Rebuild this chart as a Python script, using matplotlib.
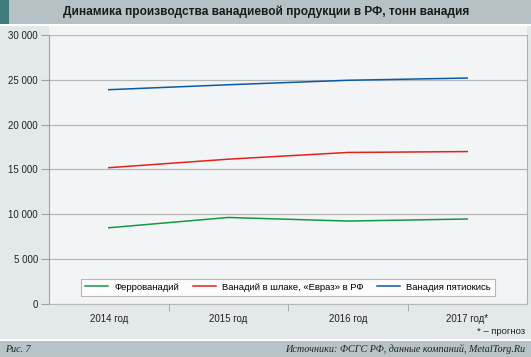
import matplotlib
matplotlib.use('Agg')
import matplotlib.pyplot as plt
from matplotlib.patches import Rectangle

plt.rcParams['font.family'] = ['Liberation Sans', 'DejaVu Sans']

years = ['2014 год', '2015 год', '2016 год', '2017 год*']
ferro = [8500, 9650, 9250, 9480]
slag = [15200, 16150, 16900, 17000]
pent = [23900, 24450, 24950, 25200]
series_names = ['Феррованадий', 'Ванадий в шлаке, «Евраз» в РФ', 'Ванадия пятиокись']
colors = ['#119a45', '#e2231a', '#0b5aa5']
yticks = [0, 5000, 10000, 15000, 20000, 25000, 30000]

W, H = 531, 357
fig = plt.figure(figsize=(W/100, H/100), dpi=100)
fig.patch.set_facecolor('#e3e8ea')

def box(x, y, w, h, c):
    # rectangle in pixel coords (top-left origin)
    fig.patches.append(Rectangle((x/W, 1-(y+h)/H), w/W, h/H, transform=fig.transFigure,
                                 facecolor=c, edgecolor='none', zorder=0))

box(0, 0, W, 24, '#b5c1c5')
box(0, 0, 9, 24, '#3d7b7d')
box(0, 24, W, 2, '#ffffff')
box(49, 26, 478, 279, '#f3f4f6')
box(0, 339, W, 2, '#ffffff')
box(0, 341, W, 16, '#b8c3c7')

fig.text(266/W, 1-12/H, 'Динамика производства ванадиевой продукции в РФ, тонн ванадия',
         ha='center', va='center', fontsize=8.6, fontweight='bold', color='#1a1a1a')

ax = fig.add_axes([49/W, 1-304/H, 478/W, 269/H])
ax.set_zorder(2)
ax.set_facecolor('none')
x = range(len(years))
for vals, name, c in zip([ferro, slag, pent], series_names, colors):
    ax.plot(x, vals, color=c, lw=1.1, label=name)

ax.set_xlim(-0.5, 3.5)
ax.set_ylim(0, 30000)
ax.set_yticks(yticks)
ax.set_yticklabels([f'{v:,}'.replace(',', ' ') for v in yticks],
                   fontsize=7, color='#222222')
ax.yaxis.grid(True, color='#b8b8b8', lw=0.9)
ax.set_axisbelow(True)
ax.tick_params(axis='y', length=6, color='#a0a0a0', pad=2)
ax.set_xticks(list(x))
ax.set_xticklabels(years, fontsize=7, color='#222222')
ax.tick_params(axis='x', length=0, pad=7)
ax.set_xticks([0.5, 1.5, 2.5], minor=True)
ax.tick_params(axis='x', which='minor', length=5, color='#a0a0a0')
ax.spines['top'].set_visible(False)
ax.spines['right'].set_color('#b0b0b0')
ax.spines['left'].set_color('#a0a0a0')
ax.spines['bottom'].set_color('#b8b8b8')

leg = ax.legend(loc='lower left', bbox_to_anchor=(32/478, 8/269),
                ncol=3, fontsize=6.8, frameon=True, fancybox=False,
                borderpad=0.45, borderaxespad=0, handlelength=2.4, handletextpad=0.65,
                columnspacing=1.5)
leg.get_frame().set_edgecolor('#a8a8a8')
leg.get_frame().set_linewidth(0.8)
leg.get_frame().set_facecolor('#ffffff')

fig.text(525/W, 1-332/H, '* – прогноз', ha='right', va='center', fontsize=6.8, color='#222222')
fig.text(5/W, 1-349/H, 'Рис. 7', ha='left', va='center', fontsize=7.2, style='italic',
         family='Liberation Serif', color='#222222')
fig.text(525/W, 1-349/H, 'Источники: ФСГС РФ, данные компаний, MetalTorg.Ru', ha='right',
         va='center', fontsize=7.3, style='italic', family='Liberation Serif', color='#222222')

fig.savefig('out.png', dpi=100)
